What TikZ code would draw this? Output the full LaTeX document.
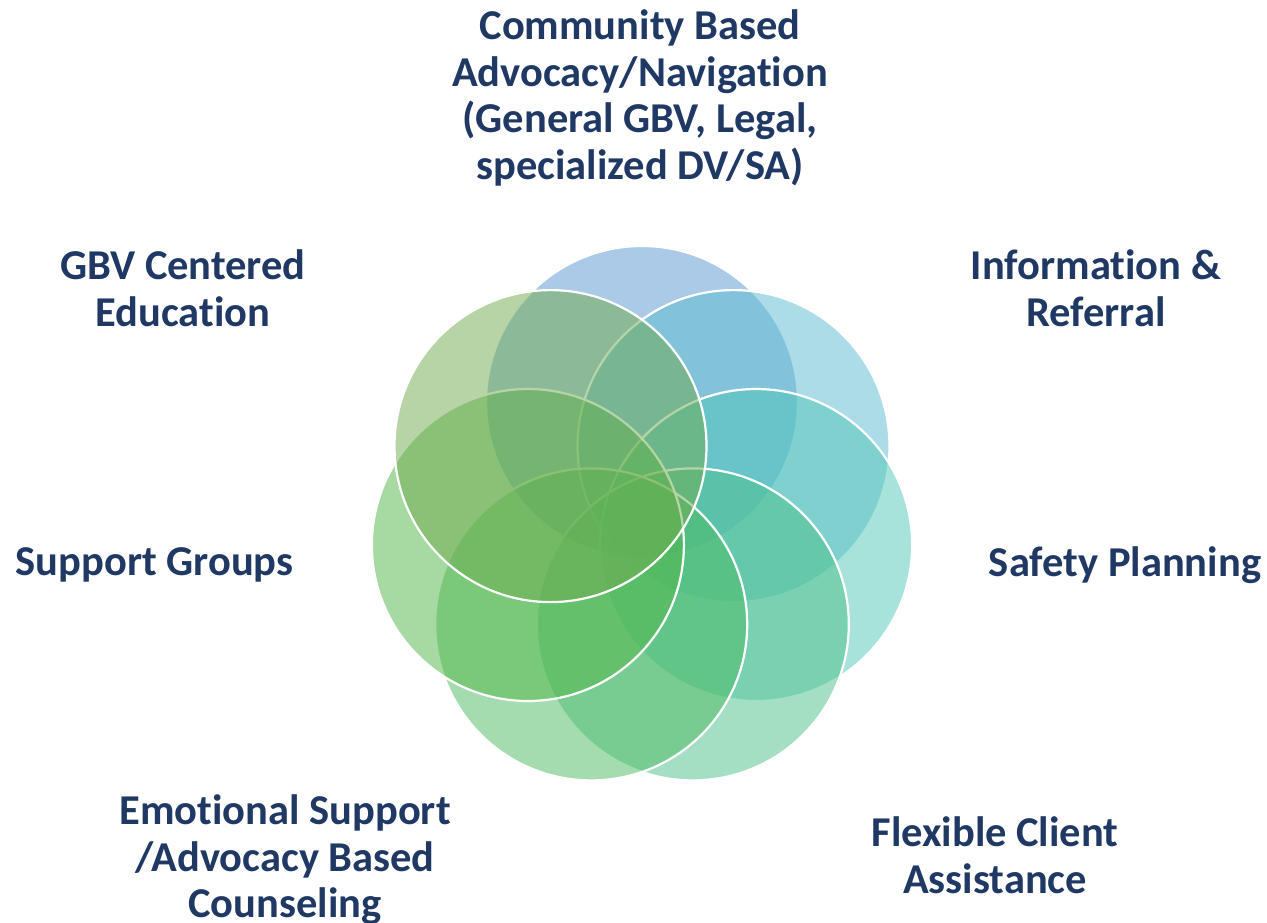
\documentclass[tikz,border=0pt]{standalone}
\usepackage{fontspec}
\setmainfont{Carlito}[Ligatures={NoCommon,NoDiscretionary,NoContextual}]
\definecolor{navy}{RGB}{31,56,100}
\definecolor{cA}{RGB}{89,151,209}
\definecolor{cB}{RGB}{91,187,209}
\definecolor{cC}{RGB}{81,199,185}
\definecolor{cD}{RGB}{77,193,137}
\definecolor{cE}{RGB}{77,187,97}
\definecolor{cF}{RGB}{81,181,71}
\definecolor{cG}{RGB}{111,171,77}
\tikzset{
  petal/.style={draw=white, line width=2.2pt, fill opacity=0.5},
  lbl/.style={text=navy, font=\bfseries\fontsize{42.5}{46.5}\selectfont, align=center, inner sep=0pt}
}
\begin{document}
\begin{tikzpicture}[x=1pt,y=-1pt]
\useasboundingbox (0,0) rectangle (1267,922);
\fill[white] (0,0) rectangle (1267,922);
\path[petal, fill=cA] (642,402) circle[radius=156];
\path[petal, fill=cB] (733.5,446.1) circle[radius=156];
\path[petal, fill=cC] (756.1,545.0) circle[radius=156];
\path[petal, fill=cD] (692.8,624.4) circle[radius=156];
\path[petal, fill=cE] (591.2,624.4) circle[radius=156];
\path[petal, fill=cF] (527.9,545.0) circle[radius=156];
\path[petal, fill=cG] (550.5,446.1) circle[radius=156];
\node[lbl] (top) at (640,98) {Community Based\\Advocacy/Navigation\\(General GBV, Legal,\\specialized DV/SA)};
\node[lbl] (gbv) at (183,288) {GBV Centered\\Education};
\node[lbl] (info) at (1096,288) {Information \&\\Referral};
\node[lbl] (supp) at (154.5,565) {Support Groups};
\node[lbl] (safe) at (1125,565) {Safety Planning};
\node[lbl] (emo) at (285,860) {Emotional Support\\/Advocacy Based\\Counseling};
\node[lbl] (flex) at (995,855) {Flexible Client\\Assistance};
\end{tikzpicture}
\end{document}
